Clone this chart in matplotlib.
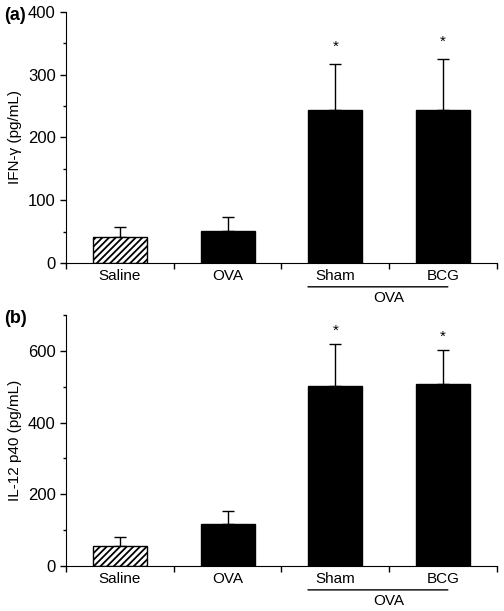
import matplotlib
matplotlib.use("Agg")
import matplotlib.pyplot as plt
import numpy as np

plt.rcParams['font.family'] = ['Liberation Sans', 'DejaVu Sans']
plt.rcParams['hatch.linewidth'] = 1.3

groups = ['Saline', 'OVA', 'Sham', 'BCG']
ifn_mean = [41, 51, 244, 244]
ifn_err = [16, 22, 73, 81]
il12_mean = [56, 117, 502, 508]
il12_err = [25, 36, 118, 95]
significant = [False, False, True, True]

fig = plt.figure(figsize=(5.04, 6.11), dpi=100)
ax_a = fig.add_axes([0.131, 0.5696, 0.855, 0.4108])
ax_b = fig.add_axes([0.131, 0.0736, 0.855, 0.4109])

x = np.arange(len(groups))


def draw_panel(ax, means, errs, ymax, major, minor, ylabel, tag, star_gap):
    for i, (m, e) in enumerate(zip(means, errs)):
        if i == 0:
            ax.bar(x[i], m, width=0.5, color='white', edgecolor='black',
                   hatch='/////', linewidth=1.0, zorder=2)
        else:
            ax.bar(x[i], m, width=0.5, color='black', edgecolor='black', zorder=2)
        ax.errorbar(x[i], m, yerr=[[0], [e]], fmt='none', ecolor='black',
                    elinewidth=1.0, capsize=4, capthick=1.0, zorder=1)
        if significant[i]:
            ax.text(x[i], m + e + ymax * star_gap, '*', ha='center', va='bottom', fontsize=11)
    ax.set_xlim(-0.5, len(groups) - 0.5)
    ax.set_ylim(0, ymax)
    ax.set_yticks(np.arange(0, ymax + 1, major))
    ax.set_yticks(np.arange(0, ymax + 1, minor), minor=True)
    ax.set_xticks(np.arange(-0.5, len(groups), 1.0))
    ax.set_xticklabels([])
    for i, g in enumerate(groups):
        ax.text(x[i], -ymax * 0.025, g, ha='center', va='top', fontsize=11)
    ax.spines['top'].set_visible(False)
    ax.spines['right'].set_visible(False)
    ax.tick_params(axis='y', labelsize=12, length=4, width=1)
    ax.tick_params(axis='y', which='minor', length=2.5, width=1)
    ax.tick_params(axis='x', length=4, width=1)
    ax.set_ylabel(ylabel, fontsize=11, labelpad=4)
    # group line under Sham / BCG
    ax.annotate('', xy=(1.72, -ymax * 0.095), xytext=(3.07, -ymax * 0.095),
                xycoords='data', annotation_clip=False,
                arrowprops=dict(arrowstyle='-', color='black', lw=1.0))
    ax.text(2.5, -ymax * 0.11, 'OVA', ha='center', va='top', fontsize=11)
    fig.text(0.008, ax.get_position().y1 + 0.008, tag, fontsize=13,
             fontweight='bold', ha='left', va='top')


draw_panel(ax_a, ifn_mean, ifn_err, 400, 100, 50, 'IFN-γ (pg/mL)', '(a)', 0.04)
draw_panel(ax_b, il12_mean, il12_err, 700, 200, 100, 'IL-12 p40 (pg/mL)', '(b)', 0.022)

fig.savefig('out.png', dpi=100)
